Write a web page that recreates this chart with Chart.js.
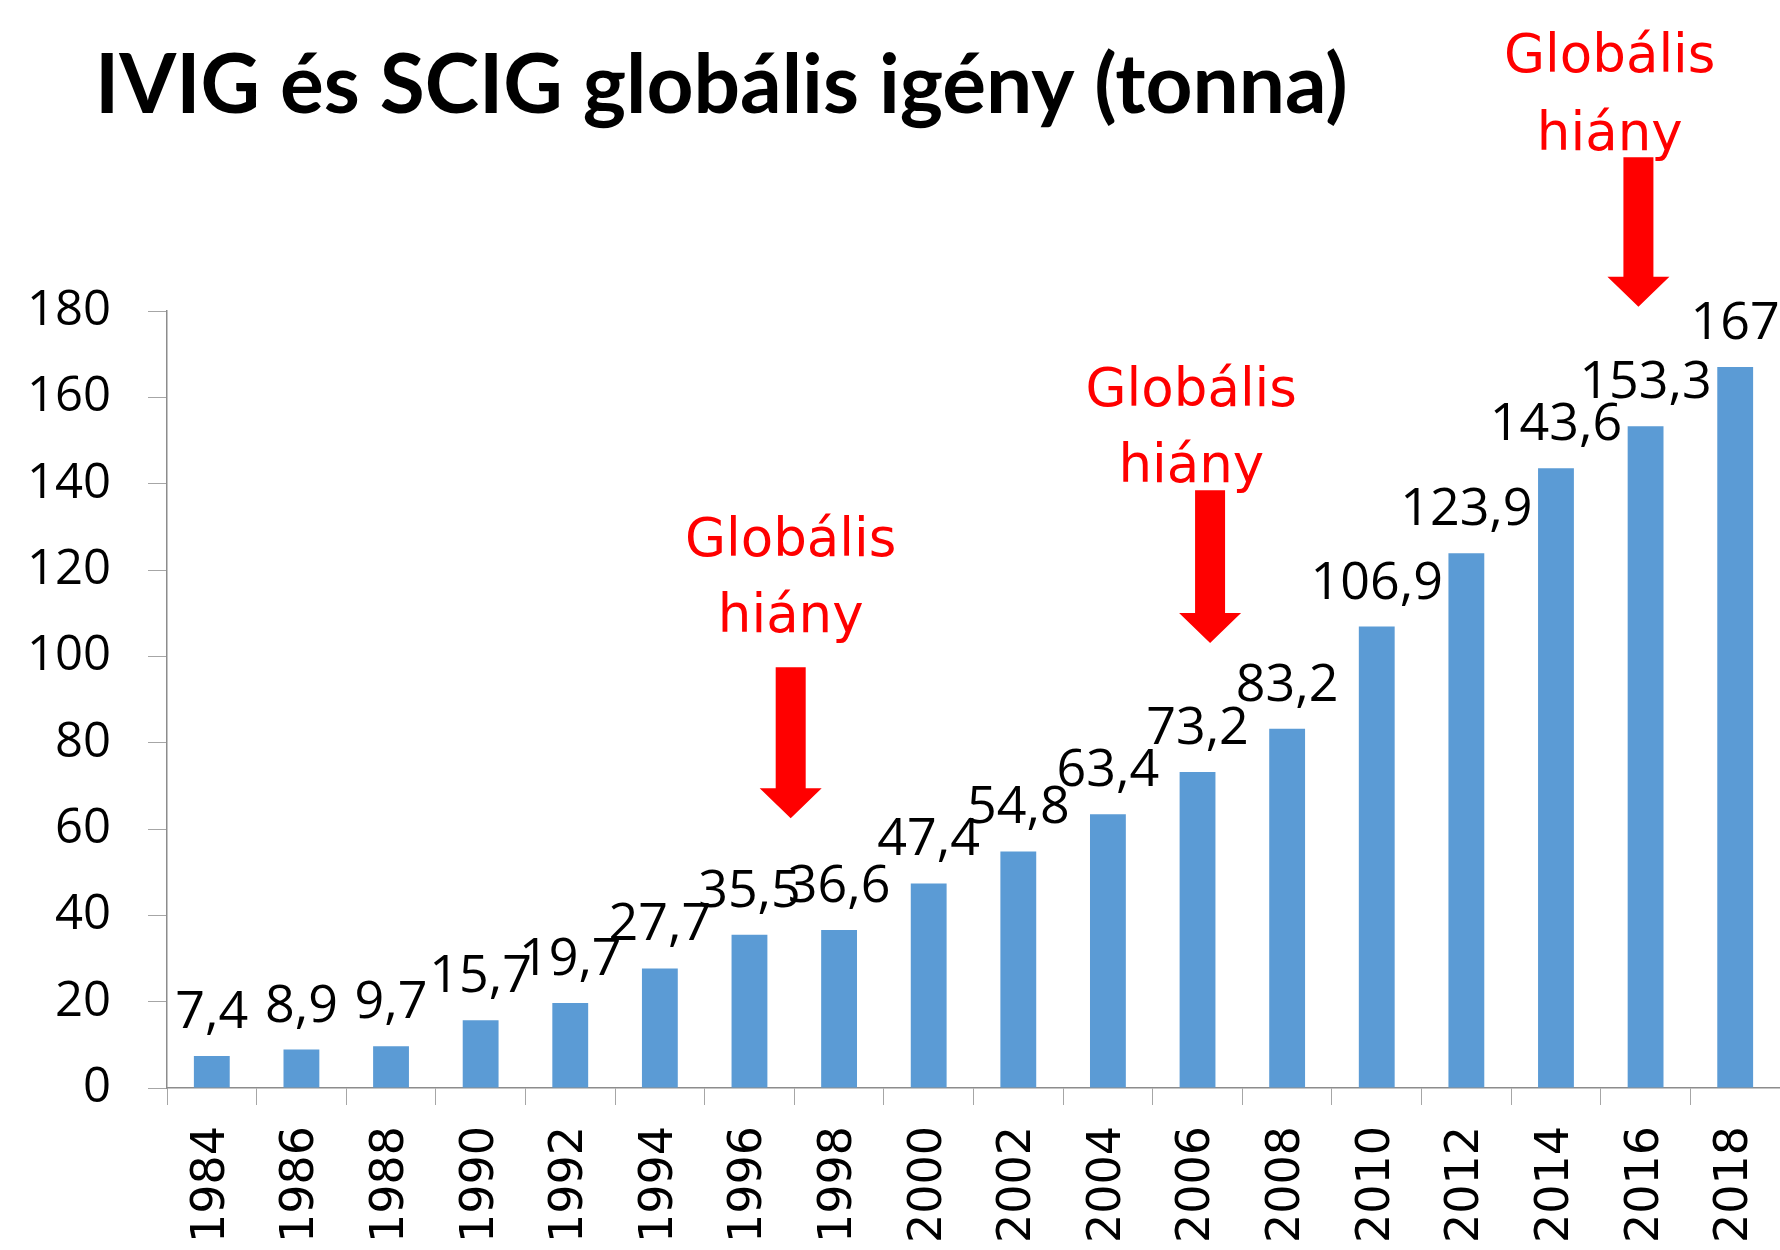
<!DOCTYPE html>
<html>
<head>
<meta charset="utf-8">
<script src="https://cdn.jsdelivr.net/npm/chart.js@4/dist/chart.umd.min.js"></script>
<style>
  html, body { margin: 0; padding: 0; background: #fff; }
  #wrap { width: 1780px; height: 1250px; position: relative; }
</style>
</head>
<body>
<div id="wrap"><canvas id="demandCanvas"></canvas></div>
<script>
const years = ["1984","1986","1988","1990","1992","1994","1996","1998","2000",
               "2002","2004","2006","2008","2010","2012","2014","2016","2018"];
const demand = [7.4, 8.9, 9.7, 15.7, 19.7, 27.7, 35.5, 36.6, 47.4,
                54.8, 63.4, 73.2, 83.2, 106.9, 123.9, 143.6, 153.3, 167];
const chartTitle = "IVIG és SCIG globális igény (tonna)";
const noteLines = ["Globális", "hiány"];

// shortage markers, in axis units (category index / tonnes)
const shortageX = [6.46, 11.14, 15.92];
const shortageTextX = [6.46, 10.93, 15.6];
const shortageTop = [97.5, 138.5, 215.6];
const shortageTip = [62.5, 103.1, 181];
const shortageText1 = [123.2, 158.1, 235.4];
const shortageText2 = [105.6, 140.5, 217.4];

const barColor = "#5b9bd5";
const axisGray = "#a6a6a6";

function fmt(v) {
  return String(v).replace(".", ",");
}

const extras = {
  id: "extras",
  afterDatasetsDraw(chart) {
    const ctx = chart.ctx;
    const xs = chart.scales.x, ys = chart.scales.y;
    ctx.save();

    // value labels
    ctx.fillStyle = "#000";
    ctx.font = "52px 'Open Sans'";
    ctx.textAlign = "center";
    ctx.textBaseline = "alphabetic";
    chart.getDatasetMeta(0).data.forEach((bar, i) => {
      ctx.fillText(fmt(demand[i]), bar.x, bar.y - 28);
    });

    // title
    ctx.font = "bold 82px Lato";
    ctx.textAlign = "left";
    ctx.fillText(chartTitle, 95, 113);

    // red notes + arrows
    ctx.fillStyle = "#ff0000";
    ctx.font = "53px 'DejaVu Sans'";
    ctx.textAlign = "center";
    for (let k = 0; k < shortageX.length; k++) {
      const tx = xs.getPixelForValue(shortageTextX[k]);
      ctx.fillText(noteLines[0], tx, ys.getPixelForValue(shortageText1[k]));
      ctx.fillText(noteLines[1], tx, ys.getPixelForValue(shortageText2[k]));

      const ax = xs.getPixelForValue(shortageX[k]);
      const top = ys.getPixelForValue(shortageTop[k]);
      const tip = ys.getPixelForValue(shortageTip[k]);
      const headH = 30, headW = 31, shaftW = 15;
      ctx.beginPath();
      ctx.moveTo(ax - shaftW, top);
      ctx.lineTo(ax + shaftW, top);
      ctx.lineTo(ax + shaftW, tip - headH);
      ctx.lineTo(ax + headW, tip - headH);
      ctx.lineTo(ax, tip);
      ctx.lineTo(ax - headW, tip - headH);
      ctx.lineTo(ax - shaftW, tip - headH);
      ctx.closePath();
      ctx.fill();
    }
    ctx.restore();
  }
};

new Chart(document.getElementById("demandCanvas"), {
  type: "bar",
  data: {
    labels: years,
    datasets: [{
      data: demand,
      backgroundColor: barColor,
      barPercentage: 0.4,
      categoryPercentage: 1.0
    }]
  },
  options: {
    responsive: true,
    maintainAspectRatio: false,
    animation: false,
    layout: { padding: { top: 311, left: 0, right: 0, bottom: 0 } },
    plugins: {
      legend: { display: false },
      title: { display: false },
      tooltip: { enabled: false }
    },
    scales: {
      x: {
        afterFit(scale) {
          scale.height = 162;
          scale.paddingLeft = 0;
          scale.paddingRight = 0;
        },
        grid: { display: true, drawOnChartArea: false, drawTicks: true, tickLength: 17, color: axisGray, offset: true },
        border: { display: true, color: "#8c8c8c", width: 1.5 },
        ticks: {
          color: "#000",
          font: { family: "'DejaVu Sans'", size: 46 },
          minRotation: 90, maxRotation: 90,
          padding: 21, autoSkip: false
        }
      },
      y: {
        min: 0, max: 180,
        afterFit(scale) {
          scale.width = 167;
          scale.paddingTop = 0;
          scale.paddingBottom = 0;
        },
        grid: { display: true, drawOnChartArea: false, drawTicks: true, tickLength: 19, color: axisGray },
        border: { display: true, color: "#8c8c8c", width: 1.5 },
        ticks: {
          stepSize: 20,
          color: "#000",
          font: { family: "'Open Sans'", size: 49 },
          padding: 37
        }
      }
    }
  },
  plugins: [extras]
});
</script>
</body>
</html>
